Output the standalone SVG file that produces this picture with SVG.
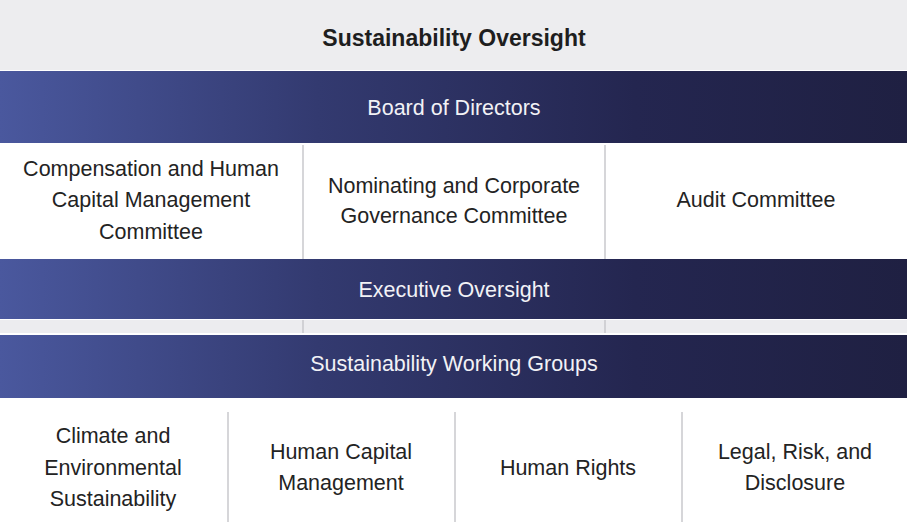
<svg xmlns="http://www.w3.org/2000/svg" width="907" height="522" viewBox="0 0 907 522">
<defs>
<linearGradient id="band" x1="0" y1="0" x2="1" y2="0">
<stop offset="0" stop-color="#4a589e"/>
<stop offset="0.35" stop-color="#333a70"/>
<stop offset="0.7" stop-color="#242650"/>
<stop offset="1" stop-color="#1f2042"/>
</linearGradient>
<style>
.t{font-family:"Liberation Sans",Arial,sans-serif;font-size:21.5px;fill:#232323;text-anchor:middle}
.w{font-family:"Liberation Sans",Arial,sans-serif;font-size:21.5px;fill:#f2f2f6;text-anchor:middle}
.h{font-family:"Liberation Sans",Arial,sans-serif;font-size:23px;font-weight:bold;fill:#1e1e1e;text-anchor:middle}
.div{stroke:#c8c8cc;stroke-width:1.5}
</style>
</defs>
<rect x="0" y="0" width="907" height="522" fill="#ffffff"/>
<g id="header">
<rect x="0" y="0" width="907" height="70" fill="#ededef"/>
<text class="h" x="454" y="46">Sustainability Oversight</text>
</g>
<g id="board">
<rect x="0" y="71" width="907" height="72" fill="url(#band)"/>
<text class="w" x="454" y="115">Board of Directors</text>
</g>
<g id="comp">
<rect x="0" y="145" width="303" height="105" fill="#ffffff"/>
<text class="t" x="151" y="176">Compensation and Human</text>
<text class="t" x="151" y="207">Capital Management</text>
<text class="t" x="151" y="239">Committee</text>
</g>
<g id="nom">
<rect x="303" y="145" width="302" height="105" fill="#ffffff"/>
<text class="t" x="454" y="193">Nominating and Corporate</text>
<text class="t" x="454" y="223">Governance Committee</text>
</g>
<g id="audit">
<rect x="605" y="145" width="302" height="105" fill="#ffffff"/>
<text class="t" x="756" y="207">Audit Committee</text>
</g>
<g id="exec">
<rect x="0" y="259" width="907" height="60" fill="url(#band)"/>
<text class="w" x="454" y="297">Executive Oversight</text>
</g>
<rect x="0" y="320" width="907" height="13" fill="#ececef"/>
<g id="wg">
<rect x="0" y="335" width="907" height="63" fill="url(#band)"/>
<text class="w" x="454" y="371">Sustainability Working Groups</text>
</g>
<g id="climate">
<text class="t" x="113" y="443">Climate and</text>
<text class="t" x="113" y="475">Environmental</text>
<text class="t" x="113" y="506">Sustainability</text>
</g>
<g id="hcm">
<text class="t" x="341" y="459">Human Capital</text>
<text class="t" x="341" y="490">Management</text>
</g>
<g id="hr">
<text class="t" x="568" y="475">Human Rights</text>
</g>
<g id="legal">
<text class="t" x="795" y="459">Legal, Risk, and</text>
<text class="t" x="795" y="490">Disclosure</text>
</g>
<g id="connectors">
<line class="div" x1="303" y1="145" x2="303" y2="259"/>
<line class="div" x1="605" y1="145" x2="605" y2="259"/>
<line class="div" x1="303" y1="320" x2="303" y2="333"/>
<line class="div" x1="605" y1="320" x2="605" y2="333"/>
<line class="div" x1="228" y1="412" x2="228" y2="522"/>
<line class="div" x1="455" y1="412" x2="455" y2="522"/>
<line class="div" x1="682" y1="412" x2="682" y2="522"/>
</g>
</svg>
